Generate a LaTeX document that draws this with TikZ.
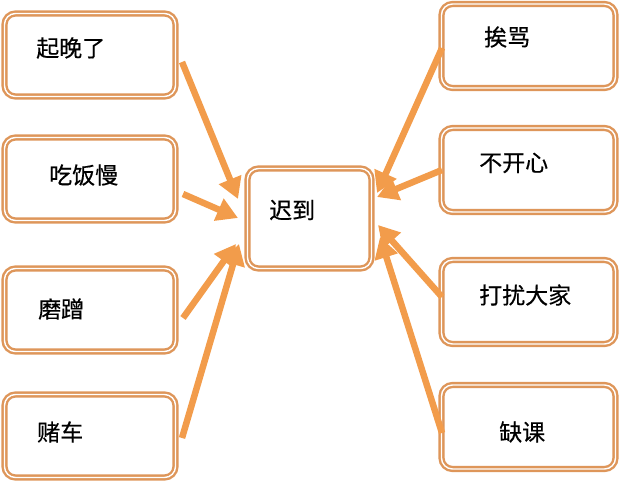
\documentclass[tikz,border=0pt]{standalone}
\usepackage{fontspec}
\setmainfont{Noto Sans CJK SC}[FakeBold=0.4]
\usetikzlibrary{arrows.meta}
\definecolor{boxline}{RGB}{222,150,90}
\definecolor{arrowc}{RGB}{242,156,75}
\tikzset{
  box/.style={draw=boxline, double=white, double distance=1.4bp, line width=2.4bp,
    rounded corners=11bp, fill=white, inner sep=0pt},
  lbox/.style={box, minimum width=171bp, minimum height=83bp},
  rbox/.style={box, minimum width=174bp, minimum height=84bp},
  cbox/.style={box, minimum width=124bp, minimum height=100bp},
  txt/.style={font=\fontsize{23bp}{26bp}\selectfont, anchor=west, inner sep=0pt},
  arr/.style={draw=arrowc, line width=6.5bp, -{Triangle[length=21bp,width=23bp]}},
}
\begin{document}
\begin{tikzpicture}[x=1bp,y=-1bp]
\useasboundingbox (0,0) rectangle (619,484);
% left boxes
\node[lbox] (l1) at (90,55) {};
\node[lbox] (l2) at (90,179) {};
\node[lbox] (l3) at (90,310) {};
\node[lbox] (l4) at (90,436) {};
% center
\node[cbox] (c) at (309.5,218.5) {};
% right boxes
\node[rbox] (r1) at (528.5,46) {};
\node[rbox] (r2) at (528.5,170) {};
\node[rbox] (r3) at (528.5,302) {};
\node[rbox] (r4) at (528.5,427) {};
% texts
\node[txt] (t1) at (36,48) {起晚了};
\node[txt] (t2) at (49,175) {吃饭慢};
\node[txt] (t3) at (38,309) {磨蹭};
\node[txt] (t4) at (37,432) {赌车};
\node[txt] (tc) at (269,210) {迟到};
\node[txt] (tr1) at (484,37) {挨骂};
\node[txt] (tr2) at (479,163) {不开心};
\node[txt] (tr3) at (479,295) {打扰大家};
\node[txt] (tr4) at (499,432) {缺课};
% arrow endpoints
\coordinate (s1) at (182,62);  \coordinate (e1) at (238,199);
\coordinate (s2) at (183,194); \coordinate (e2) at (238,218);
\coordinate (s3) at (183,318); \coordinate (e3) at (236,244);
\coordinate (s4) at (182,438); \coordinate (e4) at (239,244);
\coordinate (q1) at (442,48);  \coordinate (f1) at (377,193);
\coordinate (q2) at (442,170); \coordinate (f2) at (377,197);
\coordinate (q3) at (442,297); \coordinate (f3) at (378,225);
\coordinate (q4) at (442,433); \coordinate (f4) at (380,237);
\draw[arr] (s1) -- (e1);
\draw[arr] (s2) -- (e2);
\draw[arr] (s3) -- (e3);
\draw[arr] (s4) -- (e4);
\draw[arr] (q1) -- (f1);
\draw[arr] (q2) -- (f2);
\draw[arr] (q3) -- (f3);
\draw[arr] (q4) -- (f4);
\end{tikzpicture}
\end{document}
